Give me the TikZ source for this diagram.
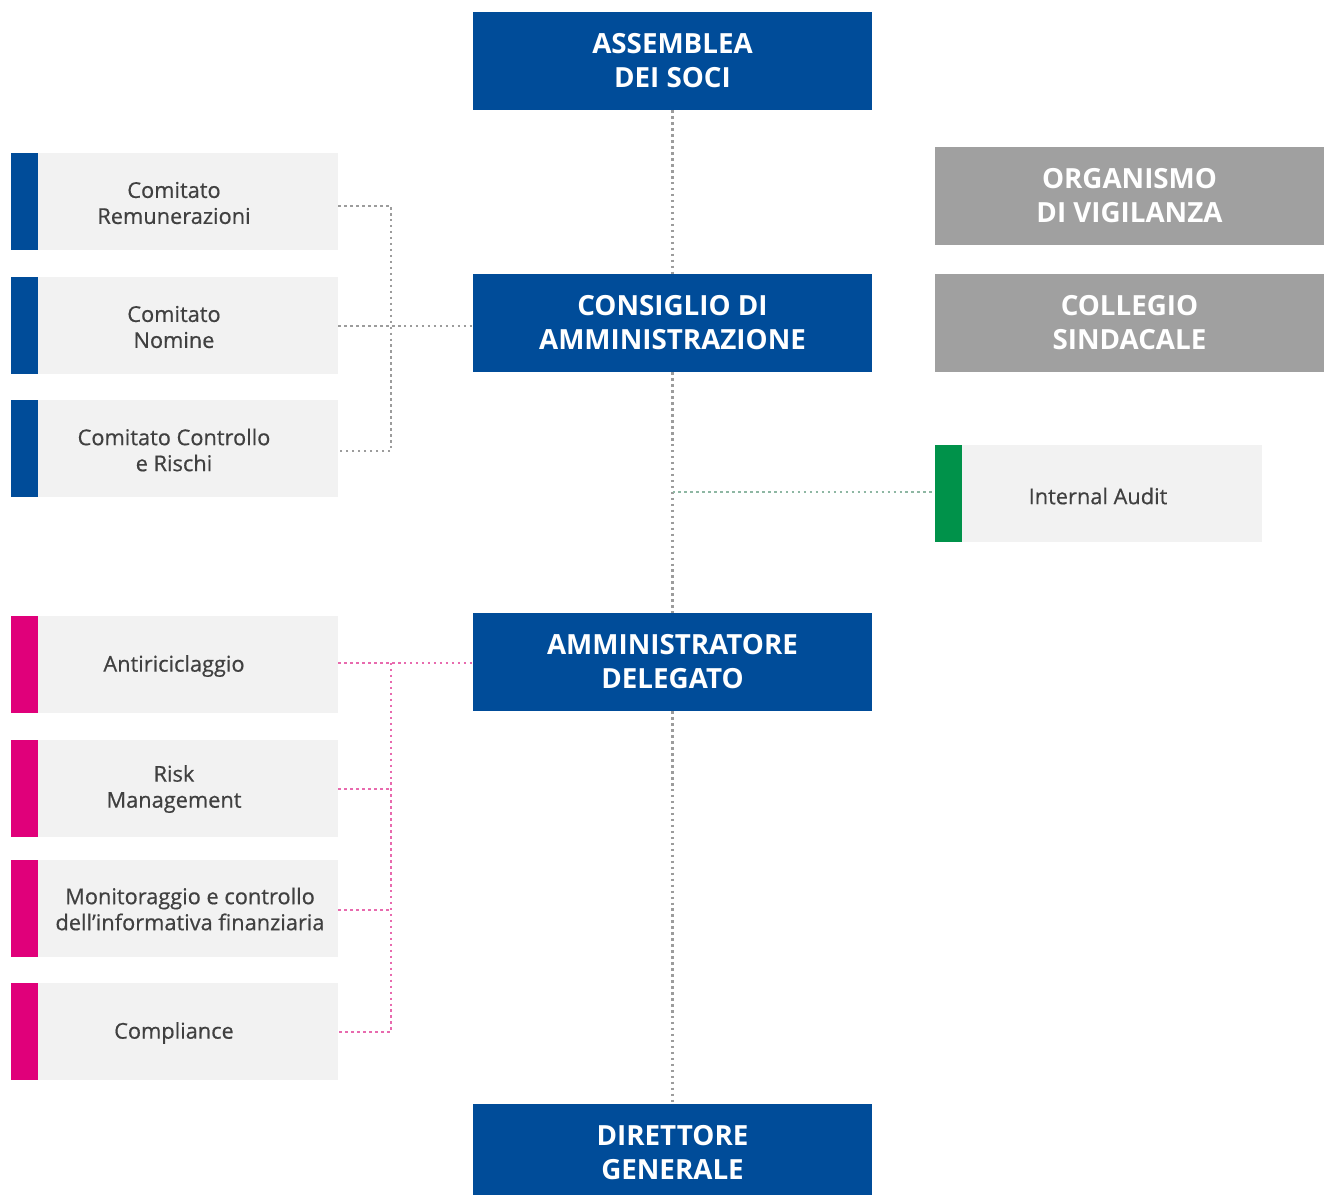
\documentclass[tikz,border=0pt]{standalone}
\usepackage{fontspec}
\setmainfont{Open Sans}
\newfontfamily\sidefont{Open Sans}[FakeBold=0.6]
\definecolor{cblue}{HTML}{004C99}
\definecolor{cgray}{HTML}{A0A0A0}
\definecolor{clight}{HTML}{F2F2F2}
\definecolor{cpink}{HTML}{E0007A}
\definecolor{cpinkline}{HTML}{E86AAE}
\definecolor{cgreen}{HTML}{00924A}
\definecolor{cdot}{HTML}{9C9C9C}
\definecolor{ctext}{HTML}{404040}
\tikzset{
  bluebox/.style={fill=cblue, text=white, font=\bfseries\fontsize{15.8}{19.3}\selectfont, align=center, minimum width=7.98cm, minimum height=1.96cm, inner sep=0pt},
  graybox/.style={fill=cgray, text=white, font=\bfseries\fontsize{15.8}{19.3}\selectfont, align=center, minimum width=7.78cm, minimum height=1.96cm, inner sep=0pt},
  sidebox/.style={fill=clight, minimum width=6.54cm, minimum height=1.94cm, inner sep=0pt,
    path picture={\fill[#1] (path picture bounding box.south west) rectangle ([xshift=0.54cm]path picture bounding box.north west);}},
  auditbox/.style={fill=clight, minimum width=6.54cm, minimum height=1.94cm, inner sep=0pt,
    path picture={\fill[cgreen] (path picture bounding box.south west) rectangle ([xshift=0.54cm]path picture bounding box.north west);}},
  sidetext/.style={text=ctext, font=\sidefont\fontsize{12.4}{14.8}\selectfont, align=center, inner sep=0pt},
  dotline/.style={draw=cdot, line width=1.3pt, dash pattern=on 1.4pt off 2pt},
  pinkline/.style={draw=cpinkline, line width=1.3pt, dash pattern=on 1.4pt off 2pt},
  greenline/.style={draw=cdot!60!cgreen!70, line width=1.3pt, dash pattern=on 1.4pt off 2pt},
}
\begin{document}
\begin{tikzpicture}[x=0.02cm, y=-0.02cm]
\useasboundingbox[fill=white] (0,0) rectangle (1324,1194);
% main column
\node[bluebox] (asm) at (672.5,61) {ASSEMBLEA\\DEI SOCI};
\node[bluebox] (cda) at (672.5,323) {CONSIGLIO DI\\AMMINISTRAZIONE};
\node[bluebox] (ad) at (672.5,662) {AMMINISTRATORE\\DELEGATO};
\node[bluebox] (dg) at (672.5,1153) {DIRETTORE\\GENERALE};
% gray boxes
\node[graybox] (odv) at (1129.5,196) {ORGANISMO\\DI VIGILANZA};
\node[graybox] (cs) at (1129.5,323) {COLLEGIO\\SINDACALE};
% internal audit
\node[auditbox, minimum width=6.54cm] (ia) at (1098.5,493.5) {};
\node[sidetext] (iat) at (1098,496) {Internal Audit};
% committees
\node[sidebox=cblue] (rem) at (174.5,201.5) {};
\node[sidebox=cblue] (nom) at (174.5,325.5) {};
\node[sidebox=cblue] (ccr) at (174.5,448.5) {};
\node[sidetext] (remt) at (174,203) {Comitato\\Remunerazioni};
\node[sidetext] (nomt) at (174,327) {Comitato\\Nomine};
\node[sidetext] (ccrt) at (174,450) {Comitato Controllo\\e Rischi};
% control functions
\node[sidebox=cpink] (aml) at (174.5,664.5) {};
\node[sidebox=cpink] (risk) at (174.5,788) {};
\node[sidebox=cpink] (mon) at (174.5,908) {};
\node[sidebox=cpink] (comp) at (174.5,1031.5) {};
\node[sidetext] (amlt) at (174,666) {Antiriciclaggio};
\node[sidetext] (riskt) at (174,789) {Risk\\Management};
\node[sidetext] (mont) at (190,909) {Monitoraggio e controllo\\dell’informativa finanziaria};
\node[sidetext] (compt) at (174,1033) {Compliance};
% coordinates
\coordinate (bj) at (391,326);
\coordinate (pj) at (391,663);
\coordinate (ja) at (672.5,492);
% connectors
\draw[dotline] (asm.south) -- (cda.north);
\draw[dotline] (cda.south) -- (ad.north);
\draw[dotline] (ad.south) -- (dg.north);
\draw[greenline] (ja) -- (ja -| ia.west);
\draw[dotline] (rem.east |- 0,206) -| (bj) |- (ccr.east |- 0,451);
\draw[dotline] (nom.east |- bj) -- (cda.west |- bj);
\draw[pinkline] (aml.east |- pj) -- (ad.west |- pj);
\draw[pinkline] (pj) |- (comp.east |- 0,1032);
\draw[pinkline] (risk.east |- 0,789) -- (pj |- 0,789);
\draw[pinkline] (mon.east |- 0,910) -- (pj |- 0,910);
\end{tikzpicture}
\end{document}
